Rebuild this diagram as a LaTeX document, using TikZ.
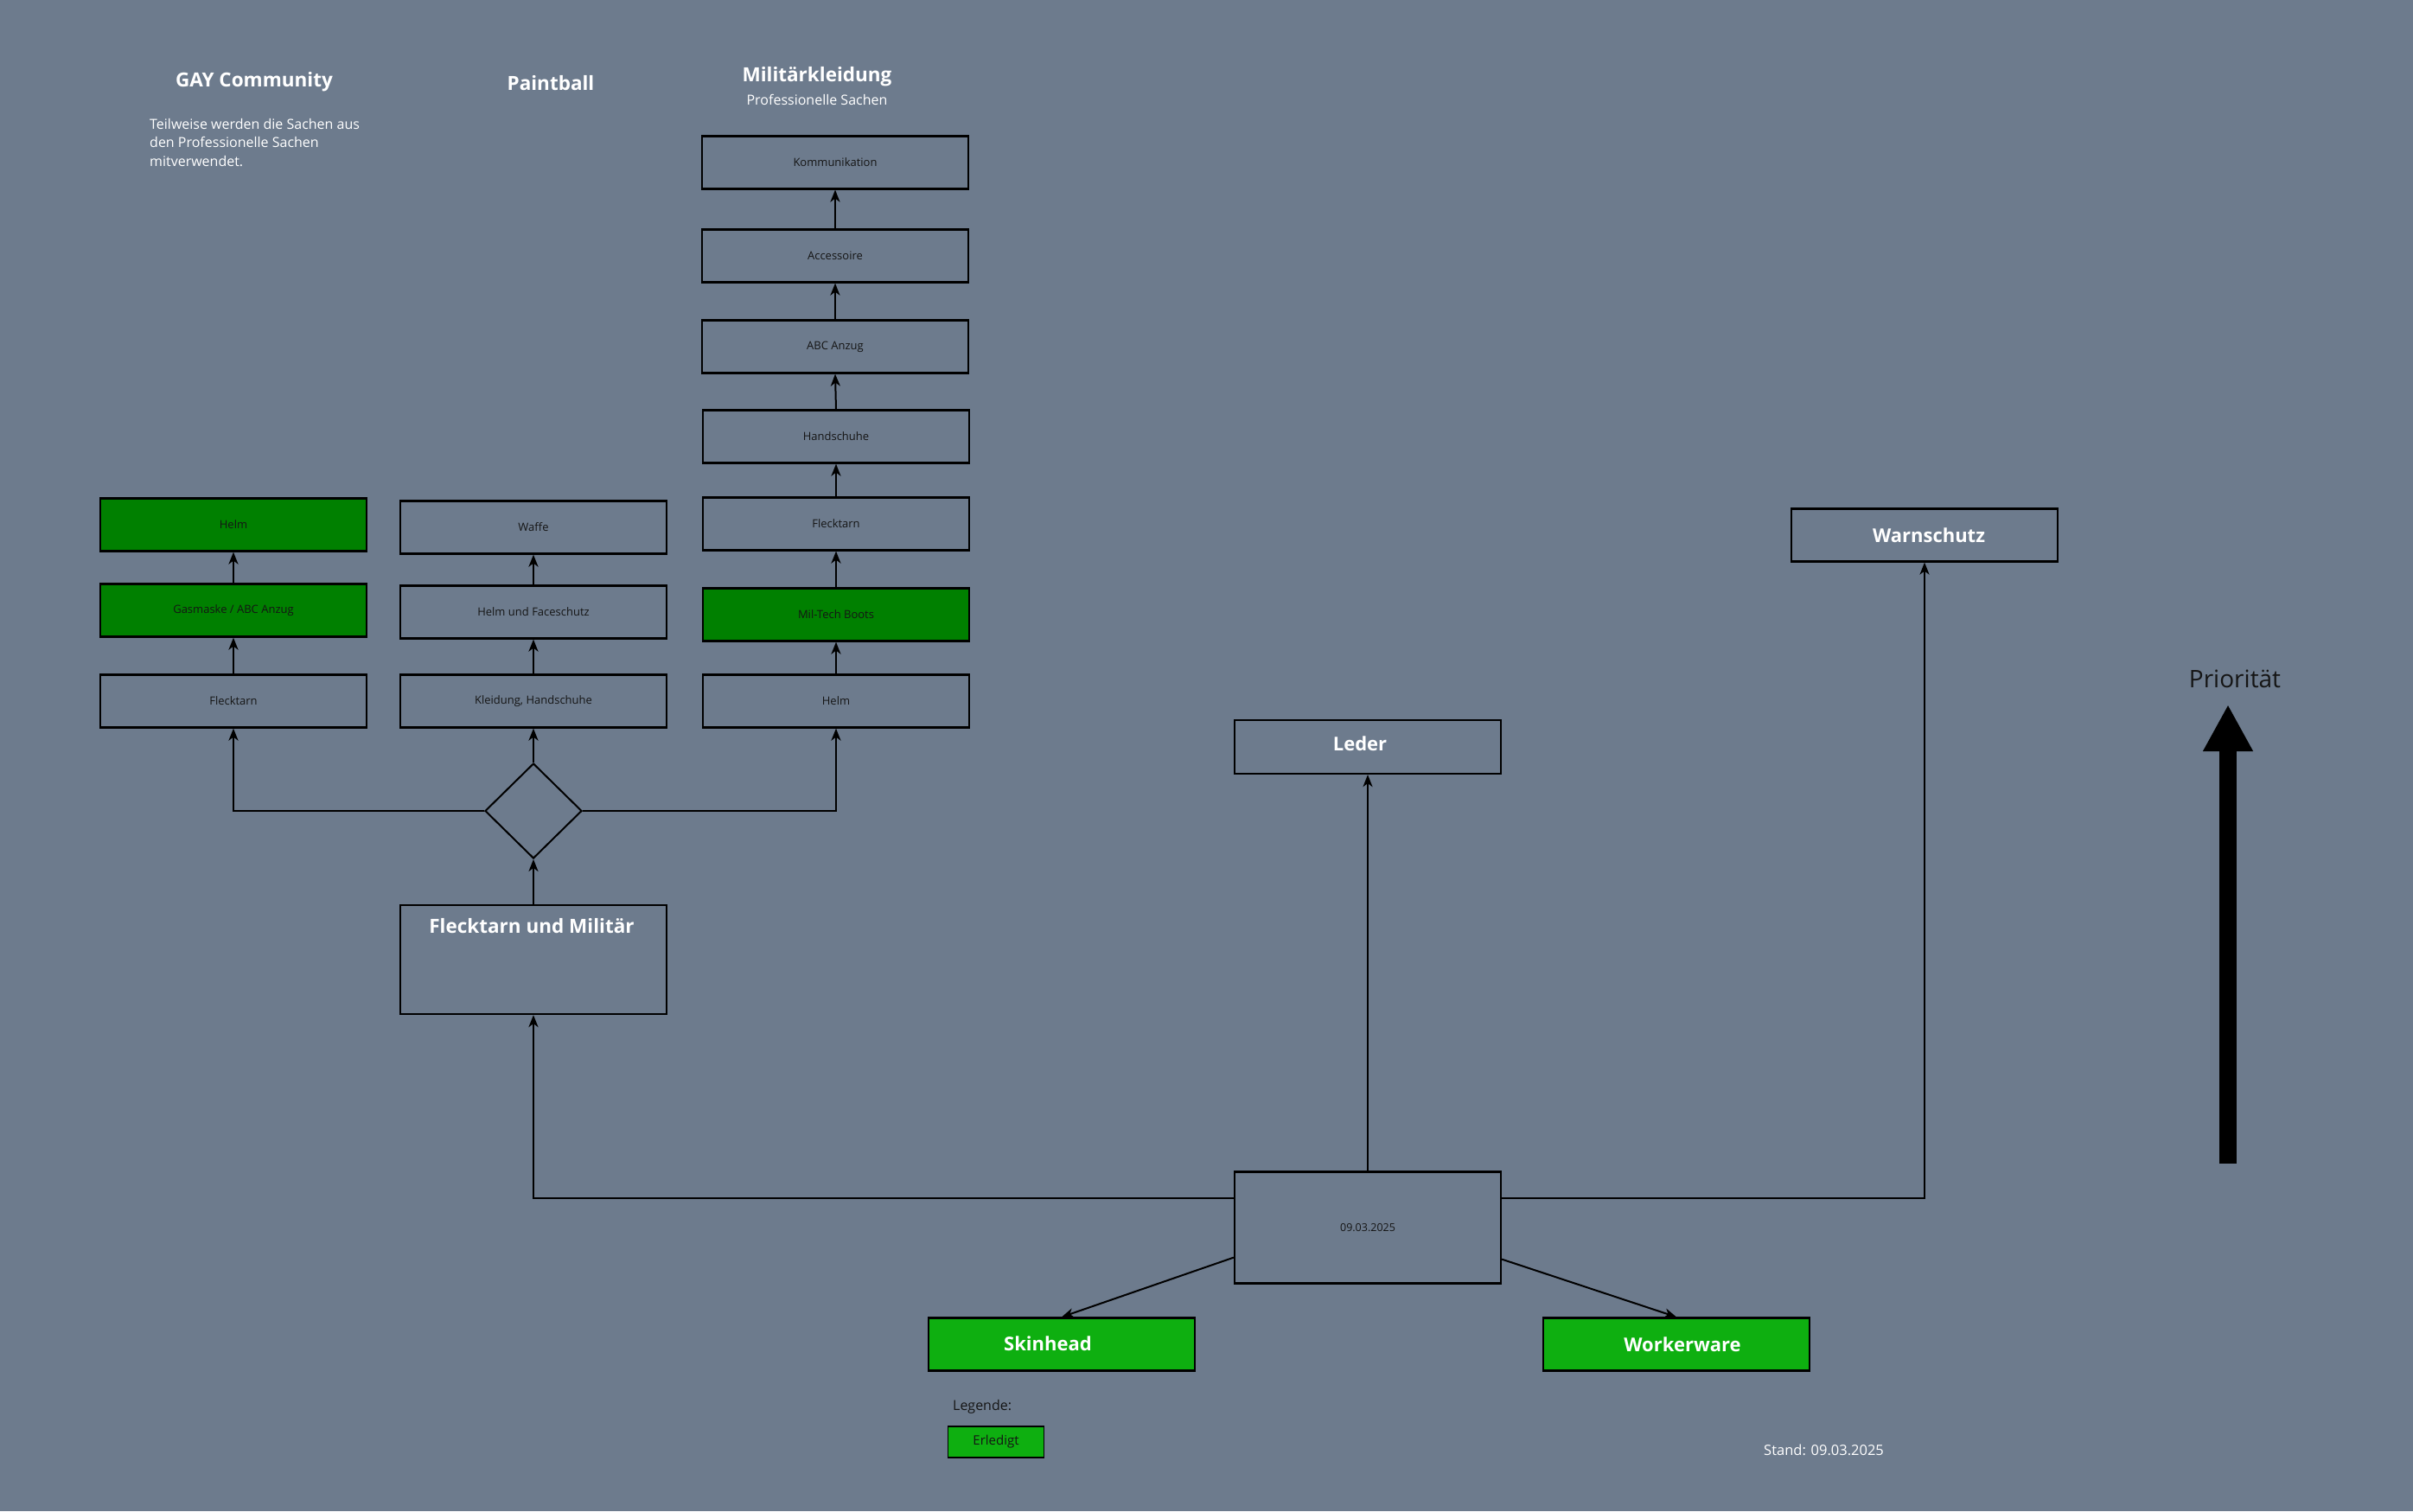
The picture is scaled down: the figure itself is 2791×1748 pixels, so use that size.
\documentclass[tikz,border=0pt]{standalone}
\usepackage{fontspec}
\setmainfont{Open Sans}
\usetikzlibrary{arrows.meta,shapes.geometric,calc}
\definecolor{bgslate}{HTML}{6D7B8D}
\definecolor{dgreen}{HTML}{008000}
\definecolor{bgreen}{HTML}{0EAF10}
\definecolor{txtdark}{HTML}{151515}
\begin{document}
\begin{tikzpicture}[x=1pt,y=-1pt,
  box/.style={draw=black, line width=2.2pt, minimum width=308pt, minimum height=61pt, inner sep=0pt,
    font=\fontsize{13}{15}\selectfont, text=txtdark},
  donebox/.style={box, fill=dgreen},
  bigbox/.style={box, font=\bfseries\fontsize{22}{26}\selectfont, text=white},
  titletext/.style={font=\bfseries\fontsize{22.5}{26}\selectfont, text=white, inner sep=0pt},
  subtext/.style={font=\fontsize{16}{21.4}\selectfont, text=white, inner sep=0pt},
  arr/.style={-{Stealth[length=14pt,width=11pt,inset=4pt]}, line width=2pt, draw=black},
  prio/.style={line width=20pt, draw=black, -{Triangle[length=54pt,width=54pt]}}
]
\fill[bgslate] (0,0) rectangle (2791,1748);
\useasboundingbox (0,0) rectangle (2791,1748);

% titles
\node[titletext] (tgay) at (294,95) {GAY Community};
\node[titletext] (tpaint) at (637,96) {Paintball};
\node[titletext] (tmil) at (945,89) {Militärkleidung};
\node[subtext] (tmilsub) at (945,115) {Professionelle Sachen};
\node[subtext, anchor=west, align=left] (tgaydesc) at (173,165) {Teilweise werden die Sachen aus\\den Professionelle Sachen\\mitverwendet.};

% GAY column
\node[donebox] (helm1) at (270,607) {Helm};
\node[donebox] (gas1) at (270,706) {Gasmaske / ABC Anzug};
\node[box] (fleck1) at (270,811) {Flecktarn};

% Paintball column
\node[box] (waffe) at (617,610) {Waffe};
\node[box] (huf) at (617,708) {Helm und Faceschutz};
\node[box] (kh) at (617,811) {Kleidung, Handschuhe};

% Military column
\node[box] (komm) at (966,188) {Kommunikation};
\node[box] (acc) at (966,296) {Accessoire};
\node[box] (abc) at (966,401) {ABC Anzug};
\node[box] (hand) at (967,505) {Handschuhe};
\node[box] (fleck3) at (967,606) {Flecktarn};
\node[donebox] (boots) at (967,711) {Mil-Tech Boots};
\node[box] (helm3) at (967,811) {Helm};

% diamond
\node[draw=black, line width=2pt, diamond, minimum width=112pt, minimum height=110pt, inner sep=0pt] (dia) at (617,938) {};

% Flecktarn und Militaer
\node[box, minimum height=126pt] (fum) at (617,1110) {};
\node[titletext] (fumtitle) at (615,1071) {Flecktarn und Militär};

% center
\node[box, minimum height=129pt, font=\fontsize{12.5}{15}\selectfont] (ctr) at (1582,1420) {09.03.2025};
\node[bigbox, minimum height=62pt] (leder) at (1582,864) {\hspace*{-18pt}\raisebox{8pt}{Leder}};
\node[bigbox] (warn) at (2226,619) {\hspace*{10pt}Warnschutz};
\node[bigbox, fill=bgreen] (skin) at (1228,1555) {\hspace*{-32pt}\raisebox{2pt}{Skinhead}};
\node[bigbox, fill=bgreen] (work) at (1939,1555) {\hspace*{14pt}\raisebox{-2pt}{Workerware}};

% legend
\node[font=\fontsize{16}{19}\selectfont, text=txtdark, anchor=west, inner sep=0pt] (leg) at (1102,1627) {Legende:};
\node[draw=black, line width=1.5pt, fill=bgreen, minimum width=111pt, minimum height=36pt, inner sep=0pt,
  font=\fontsize{15}{18}\selectfont, text=txtdark] (erl) at (1152,1668) {Erledigt};
\node[subtext, anchor=west, font=\fontsize{16.5}{20}\selectfont] (stand) at (2040,1677) {Stand: 09.03.2025};

% priority
\node[font=\fontsize{28}{32}\selectfont, text=txtdark, inner sep=0pt] (prt) at (2585,785) {Priorität};
\coordinate (pbot) at (2577,1346);
\coordinate (ptop) at (2577,815);
\draw[prio] (pbot) -- (ptop);

% connectors
\draw[arr] (fleck1.north) -- (gas1.south);
\draw[arr] (gas1.north) -- (helm1.south);
\draw[arr] (kh.north) -- (huf.south);
\draw[arr] (huf.north) -- (waffe.south);
\draw[arr] (helm3.north) -- (boots.south);
\draw[arr] (boots.north) -- (fleck3.south);
\draw[arr] (fleck3.north) -- (hand.south);
\draw[arr] (hand.north) -- (abc.south);
\draw[arr] (abc.north) -- (acc.south);
\draw[arr] (acc.north) -- (komm.south);

\draw[arr] (dia.west) -| (fleck1.south);
\draw[arr] (dia.north) -- (kh.south);
\draw[arr] (dia.east) -| (helm3.south);
\draw[arr] (fum.north) -- (dia.south);

\draw[arr] ([yshift=-32pt]ctr.north west) -| (fum.south);
\draw[arr] ([yshift=-32pt]ctr.north east) -| (warn.south);
\draw[arr] (ctr.north) -- (leder.south);
\draw[arr] ([yshift=31pt]ctr.south west) -- (skin.north);
\draw[arr] ([yshift=29pt]ctr.south east) -- (work.north);
\end{tikzpicture}
\end{document}
